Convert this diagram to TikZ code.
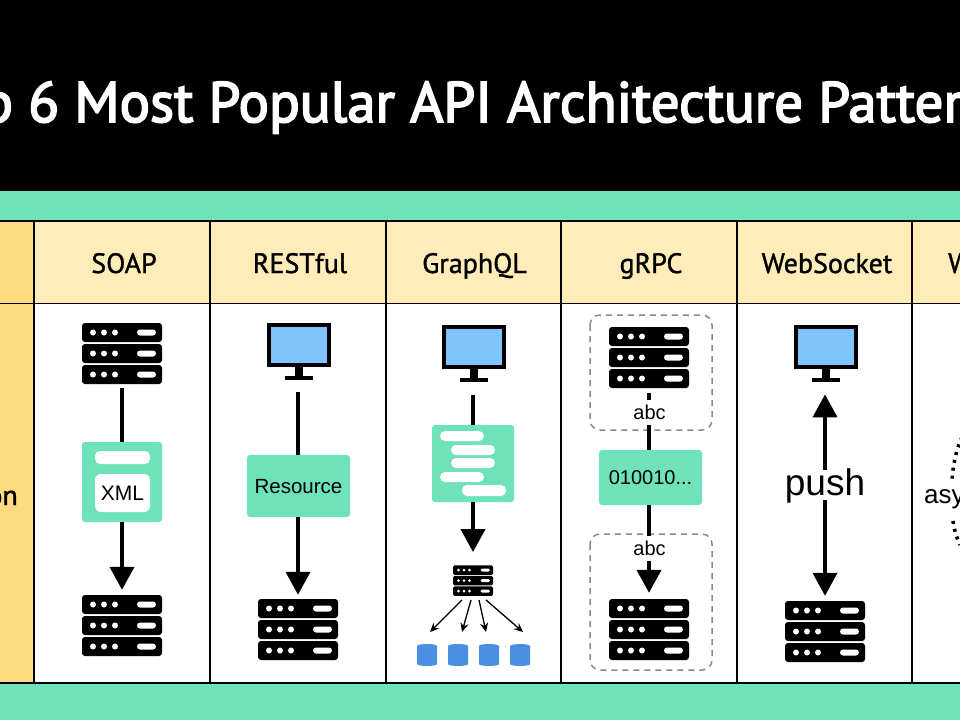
\documentclass[tikz,border=0pt]{standalone}
\usepackage{fontspec}
\setmainfont{Liberation Sans}
\newfontfamily\dinfont[FakeBold=1.2]{PT Sans}
\newfontfamily\dintitle[FakeBold=3]{PT Sans}
\usetikzlibrary{arrows.meta,calc}
\definecolor{mint}{HTML}{6EE2B8}
\definecolor{headyellow}{HTML}{FFECB8}
\definecolor{goldcell}{HTML}{FFDB80}
\definecolor{screenblue}{HTML}{7FC4FD}
\definecolor{dbblue}{HTML}{4A90E2}
\definecolor{dashgray}{HTML}{8A8A8A}
\newcommand{\fsz}[1]{\fontsize{#1}{#1}\selectfont}
% server icon: name, centre x, centre y, scale
\newcommand{\srvicon}[4]{%
  \node[anchor=center,inner sep=0pt,minimum width=#4*80pt,minimum height=#4*61pt] (#1) at (#2,#3) {};
  \begin{scope}[shift={(#2,#3)},scale=#4]
    \foreach \ry in {-21,0,21}{
      \fill[black,rounded corners=#4*3pt] (-40,\ry-9.5) rectangle (40,\ry+9.5);
      \foreach \rx in {-29,-18,-7} \fill[white] (\rx,\ry) circle (3);
      \fill[white,rounded corners=#4*3pt] (15,\ry-3) rectangle (34,\ry+3);
    }
  \end{scope}}
% monitor icon: name, centre x, top y
\newcommand{\monicon}[3]{%
  \node[anchor=north,inner sep=0pt,minimum width=64pt,minimum height=57pt] (#1) at (#2,#3) {};
  \begin{scope}[shift={(#2,#3)}]
    \fill[black] (-32,0) rectangle (32,44);
    \fill[screenblue] (-28,4) rectangle (28,40);
    \fill[black] (-4,44) rectangle (4,53);
    \fill[black] (-14,53) rectangle (14,57);
  \end{scope}}
% database icon: name, centre x
\newcommand{\dbicon}[2]{%
  \node[anchor=north,inner sep=0pt,minimum width=20pt,minimum height=22pt] (#1) at (#2,644) {};
  \fill[dbblue] (#2-10,646) arc[start angle=180,end angle=360,x radius=10,y radius=2]
    -- (#2+10,664) arc[start angle=0,end angle=180,x radius=10,y radius=2] -- cycle;
}
\tikzset{
  x=1pt,y=-1pt,
  gridline/.style={black,line width=1.7pt},
  conn/.style={black,line width=4pt},
  connarrow/.style={conn,-{Triangle[length=23pt,width=24pt]}},
  connboth/.style={conn,{Triangle[length=23pt,width=24pt]}-{Triangle[length=23pt,width=24pt]}},
  thinarrow/.style={black,line width=1.3pt,-{Stealth[length=9pt,width=8pt]}},
  headtxt/.style={font=\dinfont\fsz{28},text=black,inner sep=0pt,anchor=base},
  labtxt/.style={text=black,inner sep=0pt},
  payload/.style={fill=mint,rounded corners=3pt,inner sep=0pt,text=black,font=\fsz{20}},
  pill/.style={fill=white,rounded corners=5pt},
  dashbox/.style={draw=dashgray,dashed,line width=1.5pt,rounded corners=10pt,dash pattern=on 6pt off 5pt},
  dotarc/.style={black,line width=3.5pt,dash pattern=on 3pt off 5pt},
}
\begin{document}
\begin{tikzpicture}
\useasboundingbox (0,0) rectangle (960,720);
\clip (0,0) rectangle (960,720);
\fill[white] (0,0) rectangle (960,720);
% bands
\fill[black] (0,0) rectangle (960,191);
\fill[mint] (0,191) rectangle (960,221);
\fill[mint] (0,683) rectangle (960,720);
\fill[headyellow] (34,221) rectangle (960,303.5);
\fill[goldcell] (0,221) rectangle (34,683);
% grid
\draw[gridline] (0,221) -- (960,221);
\draw[gridline] (0,303.5) -- (960,303.5);
\draw[gridline] (0,683) -- (960,683);
\foreach \gx in {34,210,386,561,737,912} \draw[gridline] (\gx,221) -- (\gx,683);
% title
\node[anchor=base west,inner sep=0pt,text=white,font=\dintitle\fsz{57}] (title) at (28,122) {\llap{Top\ }6 Most Popular API Architecture Patterns};
% headers
\node[headtxt] (hsoap) at (124,273) {SOAP};
\node[headtxt] (hrest) at (300,273) {RESTful};
\node[headtxt] (hgql) at (474.5,273) {GraphQL};
\node[headtxt] (hgrpc) at (651,273) {gRPC};
\node[headtxt] (hws) at (827,273) {WebSocket};
\node[headtxt,anchor=base west] (hwh) at (948,273) {Webhook};
\node[headtxt,anchor=base east] (hill) at (18,505) {Illustration};
% SOAP
\srvicon{soaptop}{122}{353.5}{1}
\node[payload,minimum width=80pt,minimum height=80pt] (soapbox) at (122,482) {};
\fill[pill] (95,451) rectangle (150,464);
\node[fill=white,rounded corners=6pt,minimum width=55pt,minimum height=38pt,inner sep=0pt,text=black,font=\fsz{21}] (soapxml) at (122.5,493) {XML};
\srvicon{soapbot}{122}{625.5}{1}
\draw[conn,shorten <=4pt] (soaptop.south) -- (soapbox.north);
\draw[connarrow,shorten >=5pt] (soapbox.south) -- (soapbot.north);
% REST
\monicon{restmon}{299}{323}
\node[payload,minimum width=103pt,minimum height=62pt] (restbox) at (298.5,486) {\fsz{20.5}\raisebox{-7pt}[0pt][0pt]{Resource}};
\srvicon{restsrv}{298}{629.5}{1}
\draw[conn,shorten <=12pt] (restmon.south -| restsrv.north) -- (restsrv.north |- restbox.north);
\draw[connarrow,shorten >=4pt] (restsrv.north |- restbox.south) -- (restsrv.north);
% GraphQL
\monicon{gqlmon}{474}{325}
\node[payload,minimum width=82pt,minimum height=77pt] (gqlbox) at (473,463.5) {};
\fill[pill] (440,431) rectangle (484,441);
\fill[pill] (451,445) rectangle (495,455);
\fill[pill] (451,458) rectangle (495,468);
\fill[pill] (440,472) rectangle (484,482);
\fill[pill] (462,485) rectangle (506,496);
\srvicon{gqlsrv}{473}{580.5}{0.5}
\draw[conn,shorten <=13pt] (gqlmon.south -| gqlbox.north) -- (gqlbox.north);
\draw[connarrow,shorten >=13pt] (gqlbox.south) -- (gqlsrv.north);
\dbicon{dba}{427}
\dbicon{dbb}{458}
\dbicon{dbc}{489}
\dbicon{dbd}{520}
\draw[thinarrow] ($(gqlsrv.south)+(-11,4)$) -- ($(dba.north)+(3,-12)$);
\draw[thinarrow] ($(gqlsrv.south)+(-2,4)$) -- ($(dbb.north)+(4,-12)$);
\draw[thinarrow] ($(gqlsrv.south)+(6,4)$) -- ($(dbc.north)+(-3,-12)$);
\draw[thinarrow] ($(gqlsrv.south)+(13,4)$) -- ($(dbd.north)+(3,-12)$);
% gRPC
\draw[dashbox] (590,315) rectangle (712,430);
\draw[dashbox] (590,534) rectangle (712,670);
\srvicon{grpctop}{649}{357.5}{1}
\node[payload,minimum width=103pt,minimum height=55pt] (grpcbox) at (650.5,477.5) {010010...};
\srvicon{grpcbot}{649}{629.5}{1}
\draw[conn,shorten <=5pt] (grpctop.south) -- (grpctop.south |- grpcbox.north);
\draw[connarrow,shorten >=6pt] (grpctop.south |- grpcbox.south) -- (grpcbot.north);
\node[labtxt,fill=white,minimum width=36pt,minimum height=25pt,font=\fsz{20}] (abca) at (649.5,412) {abc};
\node[labtxt,fill=white,minimum width=36pt,minimum height=25pt,font=\fsz{20}] (abcb) at (649.5,548) {abc};
% WebSocket
\monicon{wsmon}{826}{325}
\srvicon{wssrv}{825}{631.5}{1}
\draw[connboth,shorten <=12pt,shorten >=5pt] (wsmon.south -| wssrv.north) -- (wssrv.north);
\node[labtxt,fill=white,minimum width=80pt,minimum height=30pt,font=\fsz{37}] (push) at (825,485) {\raisebox{-10pt}[0pt][0pt]{push}};
% Webhook
\node[labtxt,anchor=base west,font=\fsz{26}] (asynctxt) at (924,503) {asynchronous};
\coordinate (hooka) at (962,437);
\coordinate (hookb) at (952,480);
\coordinate (hookc) at (953,521);
\coordinate (hookd) at (960,545);
\draw[dotarc] (hooka) .. controls (956,450) and (953,465) .. (hookb);
\draw[dotarc] (hookc) .. controls (954,530) and (957,538) .. (hookd);
\end{tikzpicture}
\end{document}
